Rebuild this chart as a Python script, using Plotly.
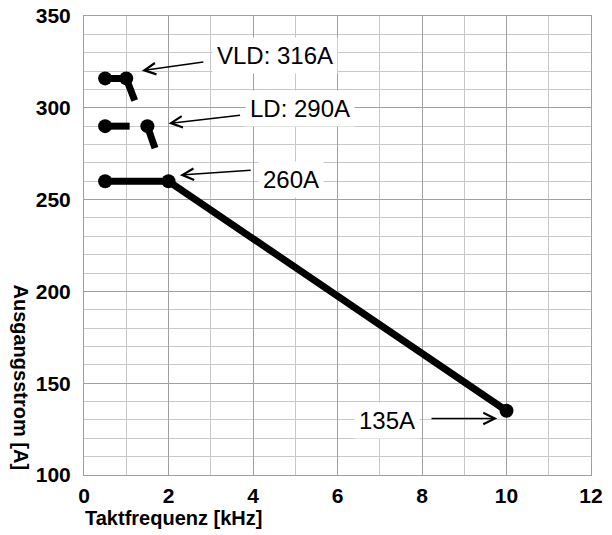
import plotly.graph_objects as go

# ---- data ----
main_x = [0.5, 2, 10]
main_y = [260, 260, 135]

ld_line_x = [0.5, 1.08, None, 1.5, 1.68]
ld_line_y = [290, 290, None, 290, 278]
ld_pts_x = [0.5, 1.5]
ld_pts_y = [290, 290]

vld_line_x = [0.5, 1.0, 1.2]
vld_line_y = [316, 316, 304]
vld_pts_x = [0.5, 1.0]
vld_pts_y = [316, 316]

labels = ["VLD: 316A", "LD: 290A", "260A", "135A"]
label_x = [4.52, 5.12, 4.91, 7.16]
label_y = [328.7, 299.7, 261.1, 129.7]
arrow_tail_x = [2.86, 3.73, 3.98, 8.19]
arrow_tail_y = [325.1, 296.0, 266.0, 130.8]
arrow_head_x = [1.37, 2.0, 2.27, 9.78]
arrow_head_y = [320.2, 291.5, 263.3, 130.8]

x_ticks = [0, 2, 4, 6, 8, 10, 12]
y_ticks = [100, 150, 200, 250, 300, 350]

FONT = "Liberation Sans, Arial, sans-serif"

fig = go.Figure()
line_style = dict(color="black", width=7)
marker_style = dict(color="black", size=14)

fig.add_trace(go.Scatter(x=main_x, y=main_y, mode="lines+markers",
                         line=line_style, marker=marker_style, showlegend=False))
fig.add_trace(go.Scatter(x=ld_line_x, y=ld_line_y, mode="lines",
                         line=line_style, connectgaps=False, showlegend=False))
fig.add_trace(go.Scatter(x=ld_pts_x, y=ld_pts_y, mode="markers",
                         marker=marker_style, showlegend=False))
fig.add_trace(go.Scatter(x=vld_line_x, y=vld_line_y, mode="lines",
                         line=line_style, showlegend=False))
fig.add_trace(go.Scatter(x=vld_pts_x, y=vld_pts_y, mode="markers",
                         marker=marker_style, showlegend=False))

annotations = []
for t, lx, ly, tx, ty, hx, hy in zip(labels, label_x, label_y,
                                      arrow_tail_x, arrow_tail_y,
                                      arrow_head_x, arrow_head_y):
    annotations.append(dict(x=hx, y=hy, ax=tx, ay=ty, xref="x", yref="y",
                            axref="x", ayref="y", text="", showarrow=True,
                            arrowhead=5, arrowsize=1.5, arrowwidth=1.5,
                            arrowcolor="black"))
    annotations.append(dict(x=lx, y=ly, xref="x", yref="y", text=t,
                            showarrow=False, bgcolor="white", borderpad=4,
                            font=dict(family=FONT, size=24, color="black")))

annotations.append(dict(text="Taktfrequenz [kHz]", xref="paper", yref="paper",
                        x=(173.5 - 84) / 507, y=-(518 - 475) / 459,
                        xanchor="center", yanchor="middle", showarrow=False,
                        font=dict(family=FONT, size=20, color="black", weight="bold")))
annotations.append(dict(text="Ausgangsstrom [A]", xref="paper", yref="paper",
                        x=-(84 - 21) / 507, y=(475 - 377.5) / 459, textangle=90,
                        xanchor="center", yanchor="middle", showarrow=False,
                        font=dict(family=FONT, size=20, color="black", weight="bold")))

fig.update_layout(
    width=612, height=535,
    margin=dict(l=84, r=21, t=16, b=60),
    paper_bgcolor="white", plot_bgcolor="white",
    annotations=annotations,
    xaxis=dict(range=[0, 12], tickvals=x_ticks, showgrid=True, gridcolor="#a0a0a0",
               gridwidth=1, zeroline=False, showline=True, linecolor="#a0a0a0",
               mirror=True, ticks="", ticklabelstandoff=2, automargin=False,
               tickfont=dict(family=FONT, size=21, color="black", weight="bold"),
               minor=dict(dtick=1, showgrid=True, gridcolor="#c8c8c8", gridwidth=1)),
    yaxis=dict(range=[100, 350], tickvals=y_ticks, showgrid=True, gridcolor="#a0a0a0",
               gridwidth=1, zeroline=False, showline=True, linecolor="#a0a0a0",
               mirror=True, ticks="", ticklabelstandoff=8, automargin=False,
               tickfont=dict(family=FONT, size=21, color="black", weight="bold"),
               minor=dict(dtick=10, showgrid=True, gridcolor="#c8c8c8", gridwidth=1)),
)

fig.write_html("out.html", config={"displayModeBar": False},
               post_script="document.body.style.margin='0';document.body.style.overflow='hidden';")
